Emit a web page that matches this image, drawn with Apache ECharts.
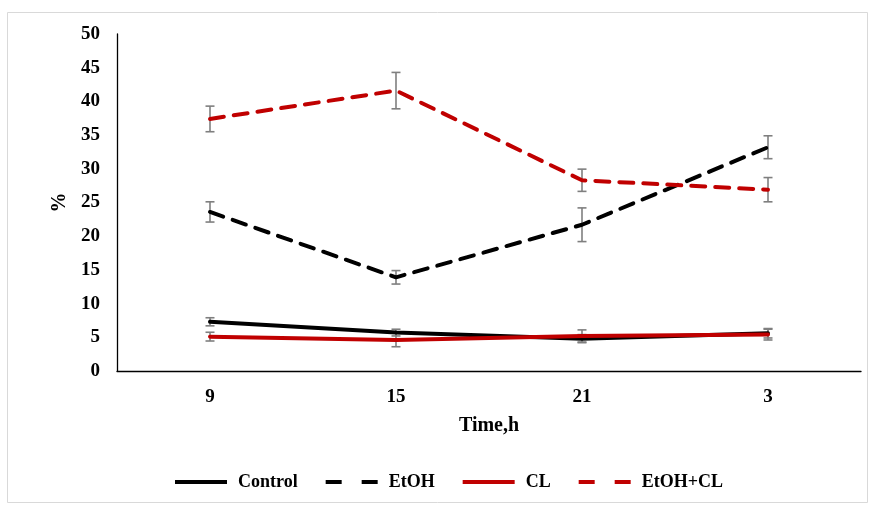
<!DOCTYPE html>
<html>
<head>
<meta charset="utf-8">
<script src="https://cdn.jsdelivr.net/npm/echarts@6/dist/echarts.min.js"></script>
<style>
  html, body { margin: 0; padding: 0; background: #fff; }
  #chart { width: 870px; height: 505px; }
</style>
</head>
<body>
<div id="chart"></div>
<script>
// Time points (hours)
const categories = ['9', '15', '21', '3'];

// Mean values, %
const control   = [7.3, 5.7, 4.8, 5.6];
const etoh      = [23.6, 13.9, 21.7, 33.2];
const cl        = [5.1, 4.6, 5.2, 5.4];
const etohCl    = [37.4, 41.6, 28.3, 26.9];

// Standard errors
const controlErr = [0.6, 0.5, 0.6, 0.7];
const etohErr    = [1.5, 1.0, 2.5, 1.7];
const clErr      = [0.65, 1.0, 0.9, 0.8];
const etohClErr  = [1.9, 2.7, 1.65, 1.8];

const yTicks = { min: 0, max: 50, interval: 5 };

const FONT = '"Liberation Serif", "Times New Roman", serif';
const BLACK = '#000000';
const RED = '#c00000';

// Legend keys: a solid bar and a two-dash bar
const SOLID_ICON = 'path://M0,0H52V4H0Z';
const DASH_ICON = 'path://M0,0H16V4H0Z M36,0H52V4H36Z';

function errorData(values, errs) {
  return values.map((v, i) => [i, v - errs[i], v + errs[i]]);
}

function errorSeries(values, errs) {
  return {
    type: 'custom',
    silent: true,
    z: 1,
    data: errorData(values, errs),
    renderItem: function (params, api) {
      const x = api.value(0);
      const lo = api.coord([x, api.value(1)]);
      const hi = api.coord([x, api.value(2)]);
      const cap = 4.5;
      const style = { stroke: '#7f7f7f', lineWidth: 1.6 };
      return {
        type: 'group',
        children: [
          { type: 'line', shape: { x1: lo[0], y1: lo[1], x2: hi[0], y2: hi[1] }, style: style },
          { type: 'line', shape: { x1: lo[0] - cap, y1: lo[1], x2: lo[0] + cap, y2: lo[1] }, style: style },
          { type: 'line', shape: { x1: hi[0] - cap, y1: hi[1], x2: hi[0] + cap, y2: hi[1] }, style: style }
        ]
      };
    }
  };
}

function lineSeries(name, values, color, dashed) {
  return {
    name: name,
    type: 'line',
    data: values,
    symbol: 'none',
    z: 2,
    lineStyle: {
      color: color,
      width: 4,
      type: dashed ? [14, 10] : 'solid',
      cap: 'round'
    },
    itemStyle: { color: color }
  };
}

const chart = echarts.init(document.getElementById('chart'));
chart.setOption({
  animation: false,
  backgroundColor: '#ffffff',
  graphic: [{
    type: 'rect',
    shape: { x: 7.5, y: 12.5, width: 860, height: 490 },
    style: { fill: 'none', stroke: '#d9d9d9', lineWidth: 1 },
    silent: true
  }],
  grid: { left: 117, right: 9, top: 34, bottom: 134, containLabel: false },
  xAxis: {
    type: 'category',
    data: categories,
    boundaryGap: true,
    name: 'Time,h',
    nameLocation: 'middle',
    nameGap: 45,
    nameTextStyle: { fontFamily: FONT, fontWeight: 'bold', fontSize: 20, color: BLACK },
    axisLine: { lineStyle: { color: BLACK, width: 1.3 } },
    axisTick: { show: false },
    axisLabel: { fontFamily: FONT, fontWeight: 'bold', fontSize: 19, color: BLACK, margin: 17 },
    splitLine: { show: false }
  },
  yAxis: {
    type: 'value',
    min: yTicks.min,
    max: yTicks.max,
    interval: yTicks.interval,
    name: '%',
    nameLocation: 'middle',
    nameGap: 41,
    nameRotate: 90,
    nameTextStyle: { fontFamily: FONT, fontWeight: 'bold', fontSize: 20, color: BLACK },
    axisLine: { show: true, lineStyle: { color: BLACK, width: 1.3 } },
    axisTick: { show: false },
    axisLabel: { fontFamily: FONT, fontWeight: 'bold', fontSize: 19, color: BLACK, margin: 17 },
    splitLine: { show: false }
  },
  legend: {
    bottom: 9,
    left: 170,
    itemWidth: 52,
    itemHeight: 4,
    itemGap: 28,
    textStyle: { fontFamily: FONT, fontWeight: 'bold', fontSize: 18, color: BLACK, padding: [0, 0, 0, 6] },
    data: [
      { name: 'Control', icon: SOLID_ICON },
      { name: 'EtOH', icon: DASH_ICON },
      { name: 'CL', icon: SOLID_ICON },
      { name: 'EtOH+CL', icon: DASH_ICON }
    ]
  },
  series: [
    errorSeries(control, controlErr),
    errorSeries(etoh, etohErr),
    errorSeries(cl, clErr),
    errorSeries(etohCl, etohClErr),
    lineSeries('Control', control, BLACK, false),
    lineSeries('EtOH', etoh, BLACK, true),
    lineSeries('CL', cl, RED, false),
    lineSeries('EtOH+CL', etohCl, RED, true)
  ]
});
</script>
</body>
</html>
